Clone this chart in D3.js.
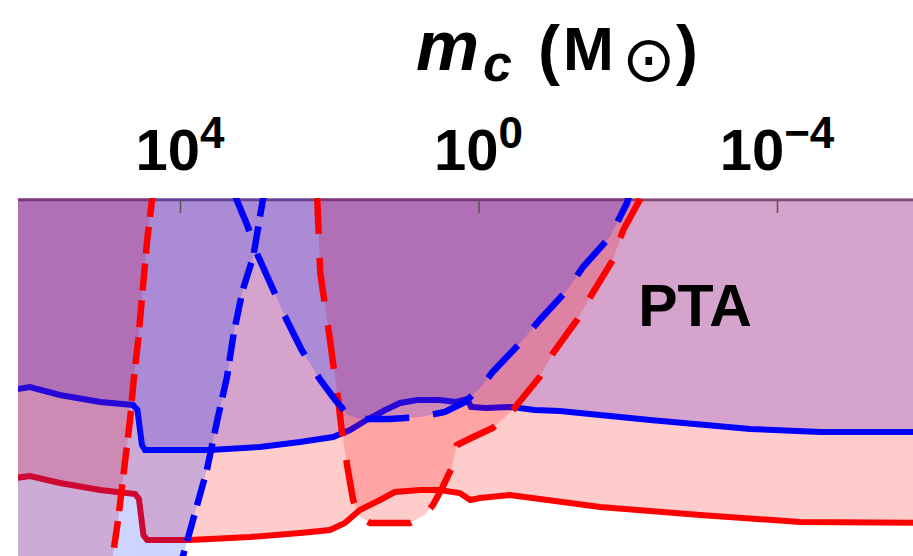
<!DOCTYPE html>
<meta charset="utf-8">
<style>
body { margin: 0; background: #fff; }
svg { display: block; }
.lbl { font-family: "Liberation Sans", Arial, sans-serif; font-weight: bold; fill: #000; }
</style>
<body><svg width="913" height="556"></svg></body>
<script src="https://d3js.org/d3.v7.min.js"></script>
<script>

// all points are [log10 m_c, log10 f]
var tickExps = [4, 0, -4];

var blueSolid = [[6.40,-1.92],[6.01,-1.87],[5.61,-1.95],[5.07,-2.02],[4.63,-2.05],[4.57,-2.10],[4.51,-2.45],
  [4.47,-2.50],[3.60,-2.50],[2.93,-2.47],[2.39,-2.42],[1.95,-2.37],[1.72,-2.30],[1.50,-2.20],[1.25,-2.10],
  [1.05,-2.03],[0.82,-2.00],[0.52,-2.00],[0.30,-2.02],[0.15,-1.99],[0.10,-2.07],[-0.10,-2.08],[-0.45,-2.07],
  [-0.75,-2.10],[-1.09,-2.11],[-2.30,-2.20],[-3.64,-2.29],[-4.58,-2.32],[-6.20,-2.32]];

var redSolid = [[6.40,-2.80],[6.01,-2.76],[5.61,-2.83],[5.07,-2.90],[4.60,-2.94],[4.55,-2.99],[4.49,-3.35],
  [4.44,-3.40],[3.87,-3.40],[3.06,-3.37],[2.39,-3.33],[1.99,-3.30],[1.79,-3.23],[1.59,-3.10],[1.32,-3.00],
  [1.12,-2.92],[0.78,-2.90],[0.52,-2.90],[0.25,-2.93],[0.11,-3.00],[-0.02,-2.98],[-0.42,-2.95],[-1.63,-3.07],
  [-2.97,-3.15],[-4.31,-3.22],[-6.20,-3.23]];

var redDashLeft = [[4.36,0.1],[4.375,0],[4.44,-0.40],[4.50,-0.90],[4.56,-1.40],[4.62,-1.80],[4.67,-2.20],
  [4.75,-2.70],[4.83,-3.20],[4.90,-3.56],[4.94,-3.80]];

var blueDashLeft = [[2.86,0.1],[2.89,0],[3.02,-0.57],[3.16,-0.90],[3.28,-1.33],[3.37,-1.77],[3.50,-2.20],
  [3.64,-2.70],[3.80,-3.13],[3.96,-3.56],[4.04,-3.80]];

var blueDashU = [[3.28,0.1],[3.24,0],[3.10,-0.25],[2.96,-0.55],[2.75,-0.90],[2.57,-1.20],[2.37,-1.50],
  [2.12,-1.80],[1.92,-2.00],[1.75,-2.15],[1.59,-2.19],[1.19,-2.19],[0.78,-2.17],[0.45,-2.12],[0.18,-2.02],
  [-0.02,-1.88],[-0.19,-1.72],[-0.56,-1.43],[-0.82,-1.20],[-1.19,-0.90],[-1.40,-0.67],[-1.76,-0.37],
  [-1.99,-0.03],[-2.04,0.1]];

var redDashU = [[2.18,0.1],[2.16,0],[2.12,-0.73],[1.99,-1.40],[1.92,-1.80],[1.88,-2.00],[1.83,-2.32],
  [1.75,-2.70],[1.68,-3.00],[1.59,-3.17],[1.45,-3.23],[0.92,-3.23],[0.72,-3.15],[0.61,-3.05],[0.48,-2.87],
  [0.36,-2.68],[0.29,-2.45],[0.07,-2.37],[-0.19,-2.28],[-0.46,-2.10],[-0.82,-1.77],[-1.00,-1.53],
  [-1.32,-1.20],[-1.53,-0.93],[-1.80,-0.60],[-1.94,-0.30],[-2.16,0],[-2.23,0.1]];

var svg = d3.select("svg"),
    width = +svg.attr("width"),
    height = +svg.attr("height");

var x = d3.scaleLog().domain([1e4, 1e-4]).range([180, 777]);
var y = d3.scaleLog().domain([1, 0.1]).range([200, 300]);

var line = d3.line()
    .x(function(d) { return x(Math.pow(10, d[0])); })
    .y(function(d) { return y(Math.pow(10, d[1])); });

var x0 = x(Math.pow(10, 6.17)), yTop = y(1);

svg.append("clipPath").attr("id", "plot")
  .append("rect")
    .attr("x", x0).attr("y", yTop - 2)
    .attr("width", width - x0).attr("height", height - yTop + 2);

function above(c) { return c.concat([[c[c.length - 1][0], 0.3], [c[0][0], 0.3]]); }
function leftOf(c) { return c.concat([[6.6, -4], [6.6, 0.3]]); }

// top frame line
svg.append("line")
    .attr("x1", x0).attr("x2", width)
    .attr("y1", yTop).attr("y2", yTop)
    .attr("stroke", "#777").attr("stroke-width", 2.5);

var g = svg.append("g").attr("clip-path", "url(#plot)");

g.append("path").attr("d", line(above(blueSolid))).attr("fill", "rgba(0,0,255,0.2)");
g.append("path").attr("d", line(above(redSolid))).attr("fill", "rgba(255,0,0,0.2)");

g.append("path").attr("d", line(redSolid))
    .attr("fill", "none").attr("stroke", "#ff0000").attr("stroke-width", 6);
g.append("path").attr("d", line(blueSolid))
    .attr("fill", "none").attr("stroke", "#0000ff").attr("stroke-width", 6);

g.append("path").attr("d", line(leftOf(redDashLeft)) + line(redDashU))
    .attr("fill", "rgba(255,0,0,0.2)");
g.append("path").attr("d", line(leftOf(blueDashLeft)) + line(blueDashU.slice().reverse()))
    .attr("fill", "rgba(0,40,255,0.2)");

[[redDashLeft, "#ff0000", "27,10"], [redDashU, "#ff0000", "44,24"],
 [blueDashLeft, "#0000ff", "27,10"], [blueDashU, "#0000ff", "44,24"]].forEach(function(s) {
  g.append("path").attr("d", line(s[0]))
      .attr("fill", "none").attr("stroke", s[1])
      .attr("stroke-width", 6.5).attr("stroke-dasharray", s[2]);
});

// ticks pointing into the plot
svg.append("g")
    .attr("transform", "translate(0," + yTop + ")")
    .attr("color", "#555")
    .call(d3.axisTop(x).tickValues(tickExps.map(function(e) { return Math.pow(10, e); }))
        .tickSizeInner(-13).tickSizeOuter(0).tickFormat(""))
    .call(function(a) { a.select(".domain").remove(); a.selectAll("line").attr("stroke-width", 1.5); });

var lab = svg.selectAll(".tick-label").data(tickExps).enter()
  .append("text")
    .attr("class", "lbl")
    .attr("text-anchor", "middle")
    .attr("x", function(e) { return x(Math.pow(10, e)); })
    .attr("y", 170);
lab.append("tspan").attr("font-size", 58).text("10");
lab.append("tspan").attr("font-size", 44).attr("dy", -22)
    .text(function(e) { return e < 0 ? "\u2212" + (-e) : String(e); });

var title = svg.append("text").attr("class", "lbl");
title.append("tspan").attr("x", 416).attr("y", 70).attr("font-size", 71).attr("font-style", "italic").text("m");
title.append("tspan").attr("x", 483).attr("y", 81).attr("font-size", 52).attr("font-style", "italic").text("c");
title.append("tspan").attr("x", 538).attr("y", 72).attr("font-size", 66).text("(");
title.append("tspan").attr("x", 563).attr("y", 70).attr("font-size", 61).text("M");
title.append("tspan").attr("x", 622).attr("y", 81).attr("font-size", 64)
    .attr("font-family", "DejaVu Sans").attr("font-weight", "normal").text("\u2299");
title.append("tspan").attr("x", 676).attr("y", 72).attr("font-size", 66).text(")");

svg.append("text").attr("class", "lbl")
    .attr("text-anchor", "middle")
    .attr("x", 695).attr("y", 326)
    .attr("font-size", 59)
    .text("PTA");

</script>
